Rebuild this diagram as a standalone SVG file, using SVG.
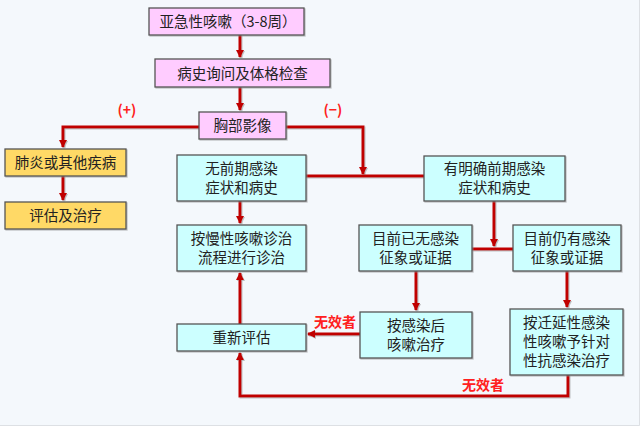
<svg xmlns="http://www.w3.org/2000/svg" width="640" height="426" viewBox="0 0 640 426">
<defs>
<style>
.bx{stroke:#555;stroke-width:1.3;filter:url(#sh)}
.pk{fill:#ffccff}
.yl{fill:#ffd966}
.cy{fill:#ccffff}
.t{font-family:"Noto Sans CJK SC","Noto Sans",sans-serif;font-size:14.5px;fill:#222;text-anchor:middle}
.r{font-family:"Noto Sans CJK SC","Noto Sans",sans-serif;font-size:14px;fill:#ff2020;text-anchor:middle;font-weight:bold}
.ln{fill:none;stroke:#c00000;stroke-width:3;filter:url(#sh)}
</style>
<filter id="sh" filterUnits="userSpaceOnUse" x="0" y="0" width="640" height="426">
<feDropShadow dx="1" dy="1" stdDeviation="0.6" flood-color="#888" flood-opacity="0.5"/>
</filter>
<marker id="ar" markerUnits="userSpaceOnUse" markerWidth="9" markerHeight="9" refX="7" refY="4.5" orient="auto">
<path d="M0,0.5 L8,4.5 L0,8.5 Z" fill="#c00000"/>
</marker>
</defs>
<rect x="0" y="0" width="640" height="426" fill="#f4f8fc"/>
<path d="M639.5,0 V425.5 H0" fill="none" stroke="#dde0e4" stroke-width="1"/>

<g id="connectors">
<path class="ln" d="M240,35 V57" marker-end="url(#ar)"/>
<path class="ln" d="M240,87 V110" marker-end="url(#ar)"/>
<path class="ln" d="M199,127 H63 V147" marker-end="url(#ar)"/>
<path class="ln" d="M286,127 H363 V174" marker-end="url(#ar)"/>
<path class="ln" d="M306,176 H424"/>
<path class="ln" d="M63,176 V200" marker-end="url(#ar)"/>
<path class="ln" d="M240,201 V223" marker-end="url(#ar)"/>
<path class="ln" d="M494,201 V246" marker-end="url(#ar)"/>
<path class="ln" d="M472,249 H513"/>
<path class="ln" d="M416,271 V310" marker-end="url(#ar)"/>
<path class="ln" d="M567,271 V307" marker-end="url(#ar)"/>
<path class="ln" d="M360,334 H308" marker-end="url(#ar)"/>
<path class="ln" d="M240,324 V273" marker-end="url(#ar)"/>
<path class="ln" d="M568,375 V396 H240 V353" marker-end="url(#ar)"/>
<text class="r" x="127" y="115">(+)</text>
<text class="r" x="333" y="115">(−)</text>
<text class="r" x="335" y="327">无效者</text>
<text class="r" x="483" y="390">无效者</text>
</g>

<g id="n1"><rect class="bx pk" x="149" y="8" width="155" height="27"/><text class="t" x="228" y="27">亚急性咳嗽（3-8周）</text></g>
<g id="n2"><rect class="bx pk" x="155" y="59" width="175" height="28"/><text class="t" x="242.5" y="78.5">病史询问及体格检查</text></g>
<g id="n3"><rect class="bx pk" x="199" y="112" width="87" height="27"/><text class="t" x="242.5" y="131">胸部影像</text></g>
<g id="n4"><rect class="bx yl" x="5" y="149" width="121" height="27"/><text class="t" x="65.5" y="168">肺炎或其他疾病</text></g>
<g id="n5"><rect class="bx yl" x="5" y="202" width="121" height="27"/><text class="t" x="65.5" y="221">评估及治疗</text></g>
<g id="n6"><rect class="bx cy" x="177" y="155" width="129" height="46"/><text class="t" x="241.5" y="173.5">无前期感染</text><text class="t" x="241.5" y="192.5">症状和病史</text></g>
<g id="n7"><rect class="bx cy" x="424" y="156" width="141" height="45"/><text class="t" x="494.5" y="173.5">有明确前期感染</text><text class="t" x="494.5" y="192.5">症状和病史</text></g>
<g id="n8"><rect class="bx cy" x="177" y="225" width="129" height="46"/><text class="t" x="241.5" y="243.5">按慢性咳嗽诊治</text><text class="t" x="241.5" y="262.5">流程进行诊治</text></g>
<g id="n9"><rect class="bx cy" x="359" y="225" width="113" height="46"/><text class="t" x="415.5" y="243.5">目前已无感染</text><text class="t" x="415.5" y="262.5">征象或证据</text></g>
<g id="n10"><rect class="bx cy" x="513" y="225" width="108" height="46"/><text class="t" x="567" y="243.5">目前仍有感染</text><text class="t" x="567" y="262.5">征象或证据</text></g>
<g id="n11"><rect class="bx cy" x="360" y="312" width="112" height="46"/><text class="t" x="416" y="330.5">按感染后</text><text class="t" x="416" y="349.5">咳嗽治疗</text></g>
<g id="n12"><rect class="bx cy" x="510" y="309" width="113" height="66"/><text class="t" x="566.5" y="327.5">按迁延性感染</text><text class="t" x="566.5" y="346.5">性咳嗽予针对</text><text class="t" x="566.5" y="365.5">性抗感染治疗</text></g>
<g id="n13"><rect class="bx cy" x="177" y="324" width="129" height="27"/><text class="t" x="241.5" y="343">重新评估</text></g>
</svg>
